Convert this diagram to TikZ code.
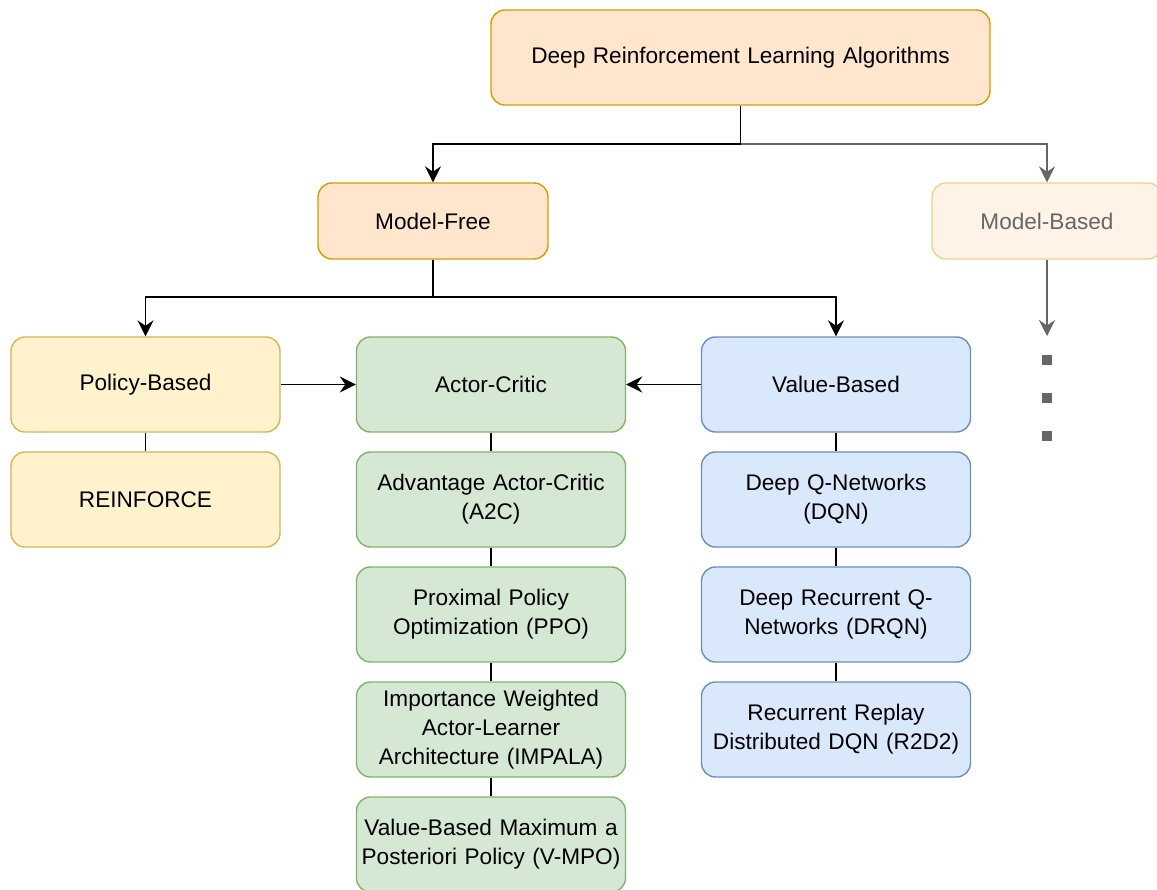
\documentclass[tikz,border=0pt]{standalone}
\usepackage{fontspec}
\setmainfont{Liberation Sans}
\usetikzlibrary{arrows.meta,positioning}
\definecolor{orfill}{HTML}{FFE6CC}
\definecolor{ordraw}{HTML}{D79B00}
\definecolor{yefill}{HTML}{FFF2CC}
\definecolor{yedraw}{HTML}{D6B656}
\definecolor{grfill}{HTML}{D5E8D4}
\definecolor{grdraw}{HTML}{82B366}
\definecolor{blfill}{HTML}{DAE8FC}
\definecolor{bldraw}{HTML}{6C8EBF}
\definecolor{faded}{HTML}{666666}
\tikzset{
  box/.style={draw, rounded corners=14pt, line width=1.4pt, align=center,
    minimum width=269pt, minimum height=95pt, text width=265pt,
    font=\fontsize{22.6}{29}\selectfont, inner sep=0pt},
  orbox/.style={box, fill=orfill, draw=ordraw},
  yebox/.style={box, fill=yefill, draw=yedraw},
  grbox/.style={box, fill=grfill, draw=grdraw},
  blbox/.style={box, fill=blfill, draw=bldraw},
  link/.style={line width=1.7pt, draw=black},
  arr/.style={link, -{Stealth[length=16pt,width=16pt,inset=5.5pt]}},
  garr/.style={arr, draw=faded},
  dot/.style={fill=faded, draw=none, minimum size=10pt, inner sep=0pt}
}
\begin{document}
\begin{tikzpicture}[x=1pt,y=-1pt]
\useasboundingbox (0,0) rectangle (1157,890);

% root and the two families
\node[orbox, minimum width=499pt, text width=480pt] (root) at (740.5,57.5) {Deep Reinforcement Learning Algorithms};
\node[orbox, minimum width=230pt, minimum height=76pt, text width=220pt] (mf) at (433,221) {Model-Free};
\node[box, minimum width=230pt, minimum height=76pt, text width=220pt,
      fill=orfill!50, draw=ordraw!45, text=faded] (mb) at (1047,221) {Model-Based};

% model-free branches
\node[yebox] (pb) at (145.5,384.5) {Policy-Based};
\node[grbox] (ac) at (491,384.5) {Actor-Critic};
\node[blbox] (vb) at (836,384.5) {Value-Based};

% policy-based methods
\node[yebox] (rf) at (145.5,499.5) {REINFORCE};

% actor-critic methods
\node[grbox] (a2c) at (491,499.5) {Advantage Actor-Critic\\(A2C)};
\node[grbox] (ppo) at (491,614.5) {Proximal Policy\\Optimization (PPO)};
\node[grbox] (imp) at (491,729.5) {Importance Weighted\\Actor-Learner\\Architecture (IMPALA)};
\node[grbox] (vmpo) at (491,844.5) {Value-Based Maximum a\\Posteriori Policy (V-MPO)};

% value-based methods
\node[blbox] (dqn) at (836,499.5) {Deep Q-Networks\\(DQN)};
\node[blbox] (drqn) at (836,614.5) {Deep Recurrent Q-\\Networks (DRQN)};
\node[blbox] (r2d2) at (836,729.5) {Recurrent Replay\\Distributed DQN (R2D2)};

% tree connectors
\coordinate (s1) at (740.5,144);
\coordinate (s2) at (433,297);
\draw[link] (root.south) -- (s1);
\draw[arr] (s1) -| (mf.north);
\draw[garr] (s1) -| (mb.north);
\draw[link] (mf.south) -- (s2);
\draw[arr] (s2) -| (pb.north);
\draw[arr] (s2) -| (vb.north);
\draw[arr] (pb.east) -- (ac.west);
\draw[arr] (vb.west) -- (ac.east);

\draw[link] (pb.south) -- (rf.north);
\draw[link] (ac.south) -- (a2c.north);
\draw[link] (a2c.south) -- (ppo.north);
\draw[link] (ppo.south) -- (imp.north);
\draw[link] (imp.south) -- (vmpo.north);
\draw[link] (vb.south) -- (dqn.north);
\draw[link] (dqn.south) -- (drqn.north);
\draw[link] (drqn.south) -- (r2d2.north);

% model-based continues
\coordinate (mbend) at (1047,336);
\draw[garr] (mb.south) -- (mbend);
\node[dot] (d1) at (1047,360) {};
\node[dot] (d2) at (1047,398) {};
\node[dot] (d3) at (1047,436) {};
\end{tikzpicture}
\end{document}
